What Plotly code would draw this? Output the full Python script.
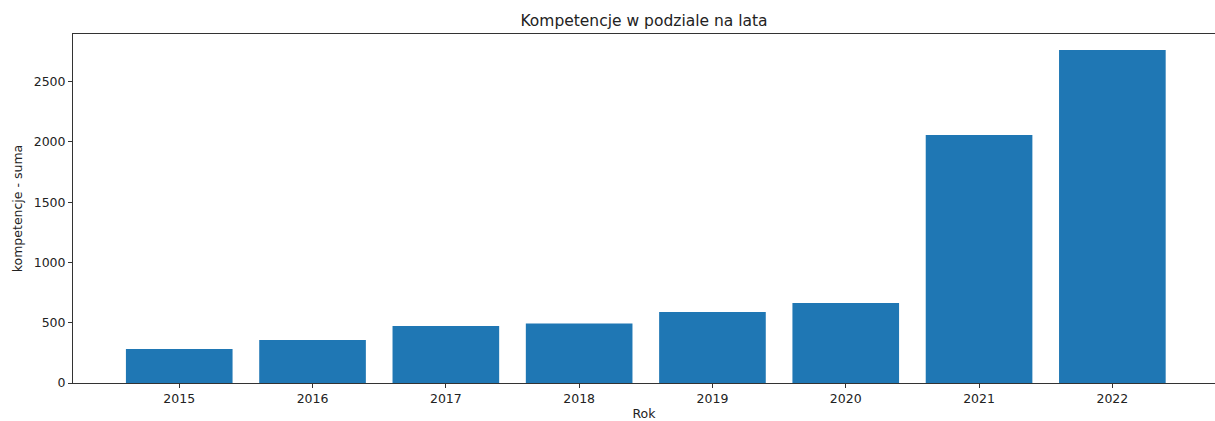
import plotly.graph_objects as go

years = [2015, 2016, 2017, 2018, 2019, 2020, 2021, 2022]
values = [282, 356, 472, 494, 589, 663, 2058, 2763]
y_ticks = [0, 500, 1000, 1500, 2000, 2500]
title_text = "Kompetencje w podziale na lata"
x_label = "Rok"
y_label = "kompetencje - suma"

fig = go.Figure(go.Bar(x=years, y=values, width=0.8, marker=dict(color="#1f77b4", line=dict(width=0))))

font_family = "DejaVu Sans"
fig.update_layout(
    width=1215, height=421,
    margin=dict(l=73, r=0, t=34, b=38),
    paper_bgcolor="white", plot_bgcolor="white",
    showlegend=False,
    font=dict(family=font_family, size=12.5, color="#222"),
    title=dict(text=title_text, x=0.5, xref="paper", xanchor="center", y=1, yref="paper", yanchor="bottom",
               pad=dict(b=8), font=dict(family=font_family, size=15.5, color="#222")),
)
fig.update_xaxes(
    range=[2014.203, 2022.77], tickmode="array", tickvals=years, ticktext=[str(y) for y in years],
    showline=True, linecolor="#333", linewidth=1, mirror=True, showgrid=False, zeroline=False,
    ticks="outside", ticklen=4, tickcolor="#333",
    title=dict(text=x_label, standoff=4, font=dict(family=font_family, size=12.5)),
)
fig.update_yaxes(
    range=[0, 2895], tickmode="array", tickvals=y_ticks,
    showline=True, linecolor="#333", linewidth=1, mirror=False, showgrid=False, zeroline=False,
    ticks="outside", ticklen=4, tickcolor="#333",
    title=dict(text=y_label, standoff=8, font=dict(family=font_family, size=12.5)),
)
fig.write_html(
    "out.html",
    config={"displayModeBar": False},
    post_script="document.body.style.margin='0';document.body.style.overflow='hidden';",
)
